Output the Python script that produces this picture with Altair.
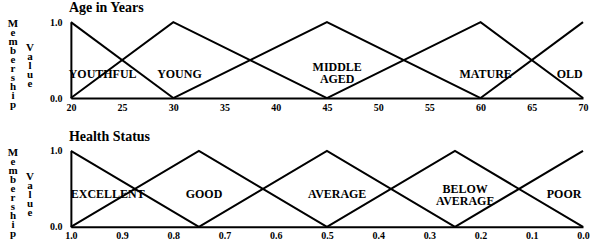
import altair as alt
import pandas as pd

# ---- data ----
age_sets = ["YOUTHFUL", "YOUNG", "MIDDLE AGED", "MATURE", "OLD"]
age_x = [[20, 30], [20, 30, 45], [30, 45, 60], [45, 60, 70], [60, 70]]
age_y = [[1, 0], [0, 1, 0], [0, 1, 0], [0, 1, 0], [0, 1]]
age_label_text = [["YOUTHFUL"], ["YOUNG"], ["MIDDLE", "AGED"], ["MATURE"], ["OLD"]]
age_label_x = [23.1, 30.6, 46.0, 60.5, 68.7]
age_label_y = [0.32, 0.32, 0.41, 0.32, 0.32]
age_ticks = [20, 25, 30, 35, 40, 45, 50, 55, 60, 65, 70]

health_sets = ["EXCELLENT", "GOOD", "AVERAGE", "BELOW AVERAGE", "POOR"]
health_x = [[1.0, 0.75], [1.0, 0.75, 0.5], [0.75, 0.5, 0.25], [0.5, 0.25, 0.0], [0.25, 0.0]]
health_y = [[1, 0], [0, 1, 0], [0, 1, 0], [0, 1, 0], [0, 1]]
health_label_text = [["EXCELLENT"], ["GOOD"], ["AVERAGE"], ["BELOW", "AVERAGE"], ["POOR"]]
health_label_x = [0.928, 0.74, 0.48, 0.23, 0.037]
health_label_y = [0.43, 0.43, 0.43, 0.50, 0.43]
health_ticks = [1.0, 0.9, 0.8, 0.7, 0.6, 0.5, 0.4, 0.3, 0.2, 0.1, 0.0]
y_ticks = [0.0, 0.5, 1.0]

SERIF = "Liberation Serif"
W, H = 513, 76


def panel(title, sets, xs, ys, ltext, lx, ly, ticks, xfmt, reverse):
    rows = []
    for s, xx, yy in zip(sets, xs, ys):
        for i, (a, b) in enumerate(zip(xx, yy)):
            rows.append({"set": s, "x": a, "y": b, "o": i})
    df = pd.DataFrame(rows)
    lab = pd.DataFrame({"t": ltext, "x": lx, "y": ly})

    xscale = alt.Scale(domain=[ticks[0], ticks[-1]] if not reverse else [0, 1],
                       reverse=reverse, nice=False, zero=False)
    xaxis = alt.Axis(values=ticks, format=xfmt, title=None, ticks=False, grid=False,
                     labelFont=SERIF, labelFontWeight="bold", labelFontSize=10,
                     labelColor="black", labelPadding=4, domainColor="black",
                     domainWidth=2, labelFlush=False)
    yaxis = alt.Axis(values=y_ticks, format=".1f", title=None, ticks=False, grid=False,
                     labelFont=SERIF, labelFontWeight="bold", labelFontSize=10,
                     labelColor="black", labelPadding=9, domainColor="black",
                     domainWidth=2)
    yscale = alt.Scale(domain=[0, 1], nice=False)

    lines = alt.Chart(df).mark_line(color="black", strokeWidth=2).encode(
        x=alt.X("x:Q", scale=xscale, axis=xaxis),
        y=alt.Y("y:Q", scale=yscale, axis=yaxis),
        detail="set:N",
        order="o:Q",
    )
    labels = alt.Chart(lab).mark_text(
        font=SERIF, fontWeight="bold", fontSize=12, color="black",
        lineHeight=12, baseline="middle", align="center"
    ).encode(
        x=alt.X("x:Q", scale=xscale),
        y=alt.Y("y:Q", scale=yscale),
        text="t",
    )
    memb = alt.Chart(pd.DataFrame({"a": [0]})).mark_text(
        text=list("Membership"), font=SERIF, fontWeight="bold", fontSize=11,
        lineHeight=9, baseline="top", align="center", color="black"
    ).encode(x=alt.value(-58), y=alt.value(-4))
    val = alt.Chart(pd.DataFrame({"a": [0]})).mark_text(
        text=list("Value"), font=SERIF, fontWeight="bold", fontSize=11,
        lineHeight=9, baseline="top", align="center", color="black"
    ).encode(x=alt.value(-41), y=alt.value(20))

    return alt.layer(lines, labels, memb, val).properties(
        width=W, height=H,
        title=alt.TitleParams(title, anchor="start", frame="group", font=SERIF,
                              fontWeight="bold", fontSize=14, color="black",
                              offset=2, dx=-2),
    )


top = panel("Age in Years", age_sets, age_x, age_y, age_label_text, age_label_x,
            age_label_y, age_ticks, "d", False)
bottom = panel("Health Status", health_sets, health_x, health_y, health_label_text,
               health_label_x, health_label_y, health_ticks, ".1f", True)

chart = alt.vconcat(top, bottom, spacing=18).properties(
    padding={"left": 7, "top": 1, "right": 0, "bottom": 0},
    background="white",
).configure_view(stroke=None)

chart.save("out.html", embed_options={"renderer": "svg", "actions": False})
